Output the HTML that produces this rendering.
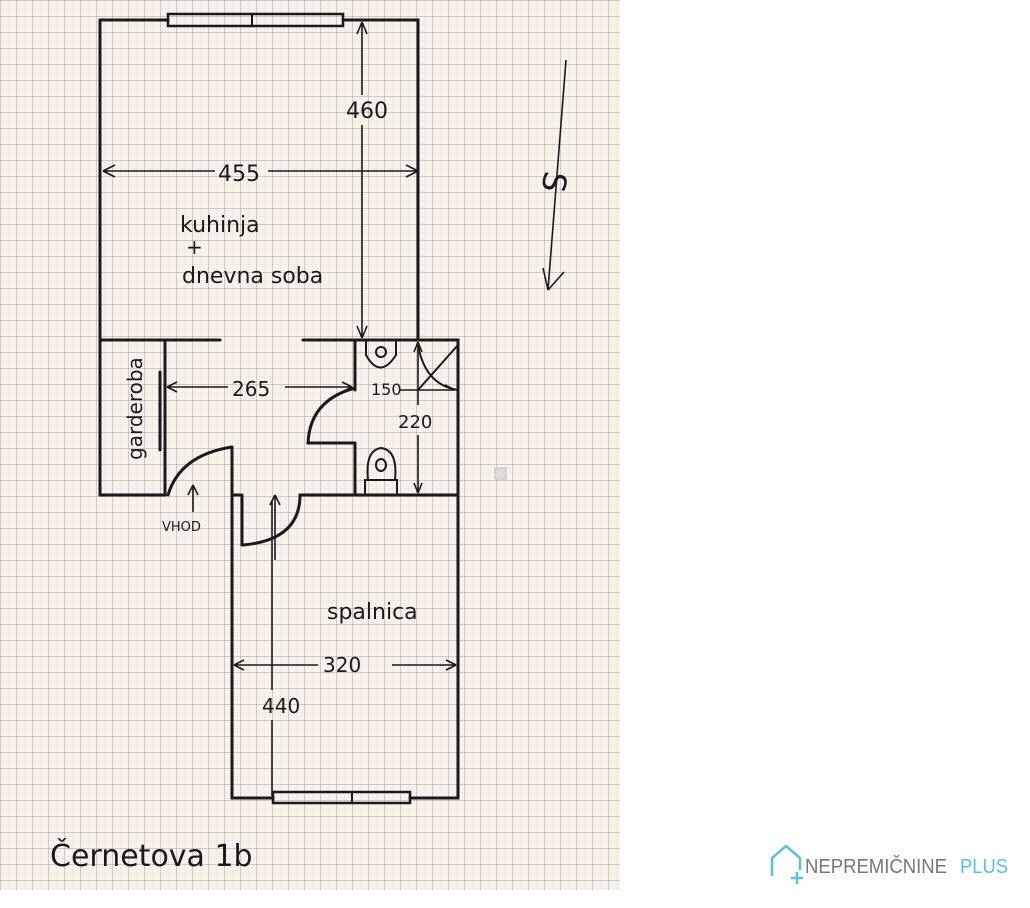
<!DOCTYPE html>
<html><head><meta charset="utf-8"><style>
body{margin:0;width:1030px;height:908px;background:#fff;overflow:hidden;position:relative;font-family:"Liberation Sans",sans-serif}
#paper{position:absolute;left:0;top:0;width:620px;height:890px;background-color:#f6f3ec;
background-image:linear-gradient(to right,rgba(140,140,140,.35) 1px,transparent 1px),linear-gradient(to bottom,rgba(140,140,140,.35) 1px,transparent 1px),linear-gradient(to right,rgba(230,190,150,.15) 1px,transparent 1px),linear-gradient(to bottom,rgba(230,190,150,.15) 1px,transparent 1px);
background-size:16px 16px,16px 16px,8px 8px,8px 8px}
svg{position:absolute;left:0;top:0}
.h{font-family:"DejaVu Sans","Liberation Sans",sans-serif;fill:#1a1a1a}
</style></head><body>
<div id="paper"></div>
<svg width="1030" height="908" viewBox="0 0 1030 908">
<g stroke="#1a1a1a" stroke-width="3" fill="none" stroke-linecap="round">
<path d="M100 20 H168 M343 20 H418 V340 M100 20 V495"/>
<rect x="168" y="14" width="175" height="12" stroke-width="2.5"/>
<path d="M252 14 V26" stroke-width="2"/>
<path d="M100 340 H220 M303 340 H458 V495"/>
<path d="M165 340 V495 M160 372 V450" />
<path d="M100 495 H165 M232 447 V495 H240 M300 495 H458"/>
<path d="M168 495 Q180 455 232 447"/>
<path d="M355 340 V390 M355 443 V495 M355 443 H308 Q310 400 355 388"/>
<path d="M418 390 L458 345 M418 345 Q425 385 458 390" stroke-width="2"/>
<path d="M366 342 V355 Q380 380 396 355 V342" stroke-width="2"/>
<circle cx="381" cy="352" r="5" stroke-width="2"/>
<path d="M365 495 V480 H397 V495 M368 480 Q365 450 381 448 Q398 450 395 480" stroke-width="2"/>
<ellipse cx="381" cy="465" rx="5" ry="6" stroke-width="2"/>
<path d="M232 495 V798 H273 M410 798 H458 V495 M242 495 V545"/>
<path d="M300 495 Q300 540 243 545"/>
<rect x="273" y="792" width="137" height="11" stroke-width="2.5"/>
<path d="M352 792 V803" stroke-width="2"/>
</g>
<g stroke="#1a1a1a" stroke-width="1.6" fill="none">
<path d="M103 171 H215 M268 171 H418 M103 171 l12 -6 M103 171 l12 6 M418 171 l-12 -6 M418 171 l-12 6"/>
<path d="M362 22 V95 M362 125 V338 M362 22 l-5 12 M362 22 l5 12 M362 338 l-5 -12 M362 338 l5 -12"/>
<path d="M167 387 H228 M285 387 H352 M167 387 l10 -5 M167 387 l10 5 M352 387 l-10 -5 M352 387 l-10 5"/>
<path d="M400 390 H455 M455 390 l-10 -5"/>
<path d="M418 342 V405 M418 435 V493 M418 342 l-4 10 M418 342 l4 10 M418 493 l-4 -10 M418 493 l4 -10"/>
<path d="M193 512 V485 l-5 10 M193 485 l5 10"/>
<path d="M275 560 V495 l-5 10 M275 495 l5 10"/>
<path d="M234 665 H318 M392 665 H456 M234 665 l10 -5 M234 665 l10 5 M456 665 l-10 -5 M456 665 l-10 5"/>
<path d="M272 500 V690 M272 720 V796"/>
<path d="M566 60 L548 290 M548 290 l-5 -22 M548 290 l16 -18"/>
</g>
<g class="h">
<text x="218" y="181" font-size="22">455</text>
<text x="346" y="118" font-size="22">460</text>
<text x="180" y="232" font-size="22">kuhinja</text>
<text x="186" y="254" font-size="20">+</text>
<text x="182" y="283" font-size="22">dnevna soba</text>
<text x="232" y="396" font-size="20">265</text>
<text x="371" y="395" font-size="16">150</text>
<text x="398" y="428" font-size="18">220</text>
<text transform="translate(142 460) rotate(-90)" font-size="20">garderoba</text>
<text x="162" y="531" font-size="13">VHOD</text>
<text x="327" y="619" font-size="22">spalnica</text>
<text x="323" y="672" font-size="20">320</text>
<text x="262" y="713" font-size="20">440</text>
<text transform="translate(545 170) rotate(100)" font-size="32">S</text>
<text x="50" y="866" font-size="30">Černetova 1b</text>
</g>
<rect x="495" y="468" width="11" height="11" fill="#ddd" stroke="#bbb"/>
<g stroke="#5bc0e0" stroke-width="2.5" fill="none">
<path d="M772 876 V858 L786 846 L800 858 V870"/>
<path d="M797 872 V884 M791 878 H803"/>
</g>
<text x="805" y="873" font-size="20" fill="#777" font-family="Liberation Sans" textLength="142" lengthAdjust="spacingAndGlyphs">NEPREMIČNINE</text>
<text x="960" y="873" font-size="20" fill="#5bc0e0" font-family="Liberation Sans" textLength="48" lengthAdjust="spacingAndGlyphs">PLUS</text>
</svg>
</body></html>
